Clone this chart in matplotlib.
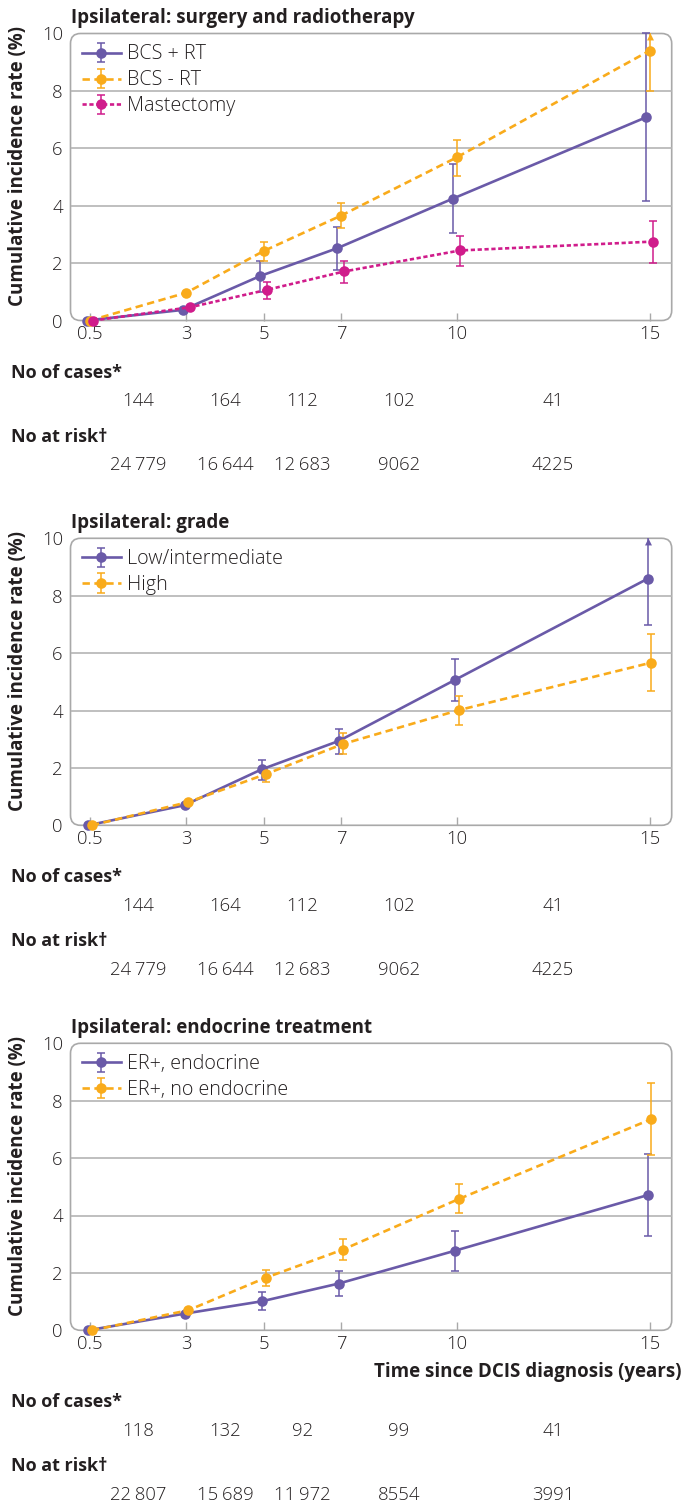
import numpy as np
import matplotlib
matplotlib.use('Agg')
import matplotlib.pyplot as plt
from matplotlib import font_manager as fm
from matplotlib.patches import FancyBboxPatch
from matplotlib.transforms import blended_transform_factory

# ---------------- data ----------------
times = [0.5, 3, 5, 7, 10, 15]
time_ticks = ['0.5', '3', '5', '7', '10', '15']
interval_mid = [1.75, 4, 6, 8.5, 12.5]
y_ticks = [0, 2, 4, 6, 8, 10]

p1_title = 'Ipsilateral: surgery and radiotherapy'
p1_labels = ['BCS + RT', 'BCS - RT', 'Mastectomy']
p1_est = [[0, 0.37, 1.55, 2.52, 4.25, 7.08],
          [0, 0.97, 2.42, 3.65, 5.68, 9.40],
          [0, 0.46, 1.07, 1.71, 2.44, 2.75]]
p1_lo = [[0, 0.33, 1.00, 1.76, 3.04, 4.16],
         [0, 0.93, 2.08, 3.21, 5.03, 8.00],
         [0, 0.42, 0.74, 1.30, 1.91, 2.02]]
p1_hi = [[0, 0.41, 2.09, 3.27, 5.45, 10.0],
         [0, 1.01, 2.73, 4.08, 6.29, 10.0],
         [0, 0.50, 1.33, 2.09, 2.96, 3.48]]
p1_open = [[0, 0, 0, 0, 0, 0],
           [0, 0, 0, 0, 0, 1],
           [0, 0, 0, 0, 0, 0]]
p1_cases = ['144', '164', '112', '102', '41']
p1_risk = ['24\u2009779', '16\u2009644', '12\u2009683', '9062', '4225']

p2_title = 'Ipsilateral: grade'
p2_labels = ['Low/intermediate', 'High']
p2_est = [[0, 0.70, 1.95, 2.94, 5.06, 8.59],
          [0, 0.81, 1.78, 2.83, 4.01, 5.67]]
p2_lo = [[0, 0.66, 1.59, 2.48, 4.33, 6.98],
         [0, 0.77, 1.51, 2.48, 3.49, 4.69]]
p2_hi = [[0, 0.74, 2.29, 3.36, 5.79, 10.0],
         [0, 0.85, 2.03, 3.22, 4.50, 6.66]]
p2_open = [[0, 0, 0, 0, 0, 1],
           [0, 0, 0, 0, 0, 0]]
p2_cases = ['144', '164', '112', '102', '41']
p2_risk = ['24\u2009779', '16\u2009644', '12\u2009683', '9062', '4225']

p3_title = 'Ipsilateral: endocrine treatment'
p3_labels = ['ER+, endocrine', 'ER+, no endocrine']
p3_est = [[0, 0.58, 1.01, 1.63, 2.77, 4.71],
          [0, 0.70, 1.83, 2.81, 4.57, 7.36]]
p3_lo = [[0, 0.54, 0.70, 1.20, 2.07, 3.28],
         [0, 0.66, 1.55, 2.44, 4.07, 6.10]]
p3_hi = [[0, 0.62, 1.33, 2.07, 3.47, 6.16],
         [0, 0.74, 2.09, 3.17, 5.09, 8.60]]
p3_open = [[0, 0, 0, 0, 0, 0],
           [0, 0, 0, 0, 0, 0]]
p3_cases = ['118', '132', '92', '99', '41']
p3_risk = ['22\u2009807', '15\u2009689', '11\u2009972', '8554', '3991']

ylabel = 'Cumulative incidence rate (%)'
xlabel = 'Time since DCIS diagnosis (years)'
cases_label = 'No of cases*'
risk_label = 'No at risk\u2020'

# ---------------- styles ----------------
_names = {f.name for f in fm.fontManager.ttflist}
def pick(*cands):
    for c in cands:
        if c in _names:
            return c
    return 'DejaVu Sans'

FONT = pick('Open Sans', 'Noto Sans', 'DejaVu Sans')
FAM = [FONT, 'DejaVu Sans']
plt.rcParams['font.family'] = FAM

PURPLE = '#6a5aa8'
ORANGE = '#f9ab1b'
MAGENTA = '#d01c8b'
TXT = '#231f20'
GRID = '#b4b4b4'
FRAME = '#a9a9a9'

S_PURPLE = dict(color=PURPLE, dashes=None, off=-0.09)
S_ORANGE = dict(color=ORANGE, dashes=(2.8, 1.7), off=0.0)
S_MAG = dict(color=MAGENTA, dashes=(1.6, 1.0), off=0.09)

FW, FH = 682, 1504
AX_L, AX_R = 70.5, 671.7
AX_H = 287.0
TOPS = [33.5, 538.3, 1043.3]
FS = 13.3
LFS = 14.2

fig = plt.figure(figsize=(FW / 100, FH / 100), dpi=100)
fig.patch.set_facecolor('white')

ARROW = [(0, 0), (-1, -2), (1, -2)]


def fy(px):
    return 1 - px / FH


def draw_panel(top, title, labels, est, lo, hi, openup, styles, cases, risk,
               with_xlabel=False):
    ax = fig.add_axes([AX_L / FW, fy(top + AX_H), (AX_R - AX_L) / FW, AX_H / FH])
    ax.set_xlim(-0.005, 15.575)
    ax.set_ylim(0, 10)
    for s in ax.spines.values():
        s.set_visible(False)
    ax.set_facecolor('none')
    # rounded frame
    w_px = AX_R - AX_L
    box = FancyBboxPatch((0, 0), 1, 1,
                         boxstyle='round,pad=0,rounding_size=%f' % (10 / w_px),
                         mutation_aspect=w_px / AX_H, transform=ax.transAxes,
                         fill=False, edgecolor=FRAME, lw=1.2, clip_on=False,
                         zorder=0.5)
    ax.add_patch(box)
    ax.set_yticks(y_ticks)
    ax.set_yticklabels([str(v) for v in y_ticks])
    ax.set_xticks(times)
    ax.set_xticklabels(time_ticks)
    ax.tick_params(axis='y', length=0, pad=5.5, labelsize=FS, labelcolor=TXT)
    ax.tick_params(axis='x', direction='in', length=5.5, width=1, color=FRAME,
                   pad=3.5, labelsize=FS, labelcolor=TXT)
    for t in ax.get_xticklabels() + ax.get_yticklabels():
        t.set_fontweight('light')
    ax.yaxis.grid(True, color=GRID, lw=1.2, zorder=0.4)
    ax.set_axisbelow(True)
    gl = ax.yaxis.get_gridlines()
    gl[0].set_visible(False)
    gl[-1].set_visible(False)

    t = np.array(times, dtype=float)
    for k in range(len(est)):
        st = styles[k]
        e = np.array(est[k], float)
        l = np.array(lo[k], float)
        h = np.array(hi[k], float)
        o = np.array(openup[k], bool)
        x = t + st['off']
        up = np.where(o, 0.0, h - e)
        dn = e - l
        c = ax.errorbar(x, e, yerr=[dn, up], color=st['color'], lw=1.9,
                        marker='o', ms=7.6, elinewidth=1.1, capsize=3,
                        capthick=1.1, label=labels[k], clip_on=False, zorder=3)
        c.lines[0].set_markeredgewidth(0)
        if st['dashes'] is not None:
            c.lines[0].set_dashes(st['dashes'])
        if o.any():
            ax.vlines(x[o], e[o], h[o], color=st['color'], lw=1.1,
                      clip_on=False, zorder=2.9)
            ax.plot(x[o], h[o], ls='none', marker=ARROW, ms=10,
                    color=st['color'], mew=0, clip_on=False, zorder=3)

    leg = ax.legend(loc='upper left', bbox_to_anchor=(11 / w_px, 1 - 11 / AX_H),
                    frameon=False, borderpad=0, borderaxespad=0,
                    handlelength=2.0, handletextpad=0.32, labelspacing=0.3,
                    prop=dict(family=FAM, size=LFS, weight='light'))
    for txt in leg.get_texts():
        txt.set_color(TXT)

    fig.text(71 / FW, fy(top - 10.5), title, ha='left', va='baseline',
             fontsize=13.5, fontweight='bold', color=TXT)
    fig.text(18 / FW, fy(top + AX_H / 2 - 11), ylabel, rotation=90,
             ha='center', va='center', fontsize=13.5, fontweight='bold',
             color=TXT)

    bottom = top + AX_H
    tr = blended_transform_factory(ax.transData, fig.transFigure)
    shift = 0
    if with_xlabel:
        fig.text(682 / FW, fy(bottom + 42), xlabel, ha='right', va='center',
                 fontsize=13.5, fontweight='bold', color=TXT)
        shift = 20
    fig.text(11 / FW, fy(bottom + 52 + shift), cases_label, ha='left',
             va='center', fontsize=13, fontweight='bold', color=TXT)
    for xm, s in zip(interval_mid, cases):
        fig.text(xm, fy(bottom + 81 + shift), s, transform=tr, ha='center',
                 va='center', fontsize=FS, fontweight='light', color=TXT)
    fig.text(11 / FW, fy(bottom + 116 + shift), risk_label, ha='left',
             va='center', fontsize=13, fontweight='bold', color=TXT)
    for xm, s in zip(interval_mid, risk):
        fig.text(xm, fy(bottom + 145 + shift), s, transform=tr, ha='center',
                 va='center', fontsize=FS, fontweight='light', color=TXT)
    return ax


draw_panel(TOPS[0], p1_title, p1_labels, p1_est, p1_lo, p1_hi, p1_open,
           [S_PURPLE, S_ORANGE, S_MAG], p1_cases, p1_risk)
draw_panel(TOPS[1], p2_title, p2_labels, p2_est, p2_lo, p2_hi, p2_open,
           [dict(S_PURPLE, off=-0.05), dict(S_ORANGE, off=0.05)],
           p2_cases, p2_risk)
draw_panel(TOPS[2], p3_title, p3_labels, p3_est, p3_lo, p3_hi, p3_open,
           [dict(S_PURPLE, off=-0.05), dict(S_ORANGE, off=0.05)],
           p3_cases, p3_risk, with_xlabel=True)

fig.savefig('out.png', dpi=100, facecolor='white')
